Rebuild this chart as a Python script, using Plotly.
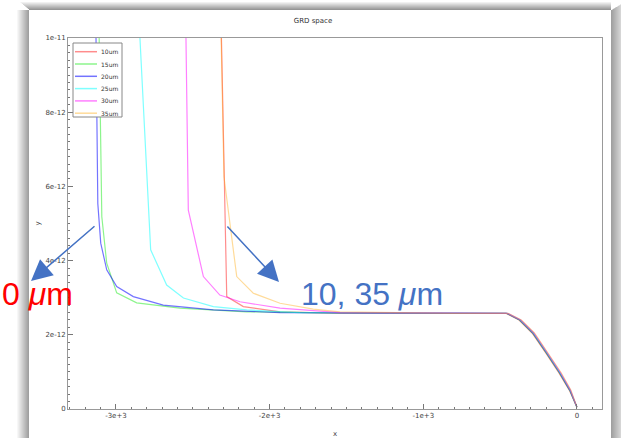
import plotly.graph_objects as go

# ---------------- data ----------------
series_names = ["10um", "15um", "20um", "25um", "30um", "35um"]

x_10 = [-2316, -2297, -2279, -2171, -1932, -1542, -1000, -700, -463, -377, -292, -203, -117, -50, -4, 0]
y_10 = [1.05e-11, 6.17e-12, 3.03e-12, 2.76e-12, 2.62e-12, 2.58e-12, 2.58e-12, 2.58e-12, 2.58e-12, 2.40e-12, 2.05e-12, 1.51e-12, 0.97e-12, 0.51e-12, 0.10e-12, 0.05e-12]

x_15 = [-3111, -3092, -3060, -2995, -2865, -2584, -2149, -1600, -1000, -460, -374, -289, -200, -114, -48, -3, 0]
y_15 = [1.05e-11, 5.18e-12, 3.93e-12, 3.13e-12, 2.86e-12, 2.72e-12, 2.62e-12, 2.59e-12, 2.58e-12, 2.58e-12, 2.40e-12, 2.05e-12, 1.51e-12, 0.97e-12, 0.51e-12, 0.09e-12, 0.05e-12]

x_20 = [-3131, -3118, -3099, -3060, -2995, -2887, -2692, -2366, -1932, -1400, -900, -457, -371, -286, -197, -111, -46, -2, 0]
y_20 = [1.05e-11, 5.54e-12, 4.47e-12, 3.75e-12, 3.30e-12, 3.03e-12, 2.80e-12, 2.67e-12, 2.60e-12, 2.59e-12, 2.58e-12, 2.58e-12, 2.40e-12, 2.05e-12, 1.51e-12, 0.97e-12, 0.51e-12, 0.08e-12, 0.05e-12]

x_25 = [-2850, -2774, -2670, -2561, -2366, -2149, -1802, -1200, -800, -454, -368, -283, -194, -108, -44, -1, 0]
y_25 = [1.05e-11, 4.29e-12, 3.34e-12, 2.99e-12, 2.76e-12, 2.67e-12, 2.60e-12, 2.59e-12, 2.58e-12, 2.58e-12, 2.40e-12, 2.05e-12, 1.51e-12, 0.97e-12, 0.51e-12, 0.07e-12, 0.05e-12]

x_30 = [-2546, -2529, -2431, -2324, -2193, -1932, -1542, -1100, -700, -451, -365, -280, -191, -105, -42, -1, 0]
y_30 = [1.05e-11, 5.36e-12, 3.57e-12, 3.07e-12, 2.89e-12, 2.72e-12, 2.60e-12, 2.59e-12, 2.58e-12, 2.58e-12, 2.40e-12, 2.05e-12, 1.51e-12, 0.97e-12, 0.51e-12, 0.07e-12, 0.05e-12]

x_35 = [-2318, -2297, -2214, -2106, -1932, -1716, -1542, -1152, -800, -448, -362, -277, -188, -102, -40, 0]
y_35 = [1.05e-11, 6.26e-12, 3.57e-12, 3.12e-12, 2.85e-12, 2.69e-12, 2.62e-12, 2.59e-12, 2.58e-12, 2.58e-12, 2.40e-12, 2.05e-12, 1.51e-12, 0.97e-12, 0.51e-12, 0.05e-12]

x_tickvals = [-3000, -2000, -1000, 0]
x_ticktext = ["-3e+3", "-2e+3", "-1e+3", "0"]
y_tickvals = [0, 2e-12, 4e-12, 6e-12, 8e-12, 1e-11]
y_ticktext = ["0", "2e-12", "4e-12", "6e-12", "8e-12", "1e-11"]

xs = [x_10, x_15, x_20, x_25, x_30, x_35]
ys = [y_10, y_15, y_20, y_25, y_30, y_35]

# ---------------- styles ----------------
colors = ["rgba(255,0,0,0.45)", "rgba(0,230,0,0.45)", "rgba(0,0,255,0.55)",
          "rgba(0,255,255,0.5)", "rgba(255,0,255,0.5)", "rgba(255,165,0,0.4)"]

W, H = 621, 438
ML, MR, MT, MB = 68, 19, 38, 29
PW, PH = W - ML - MR, H - MT - MB


def px(p):
    return (p - ML) / PW


def py(p):
    return (H - MB - p) / PH


fig = go.Figure()
for name, xv, yv, c in zip(series_names, xs, ys, colors):
    fig.add_trace(go.Scatter(x=xv, y=yv, mode="lines", name=name,
                             line=dict(color=c, width=1.2), showlegend=False))

shapes = []


def grey(t, base=160):
    v = int(base + (255 - base) * t)
    return f"rgb({v},{v},{v})"


# page shadow (screenshot frame)
n = 12
for i in range(n):
    t = i / n
    shapes.append(dict(type="rect", xref="paper", yref="paper",
                       x0=px(29 - (i + 1)), x1=px(29 - i), y0=py(438), y1=py(10),
                       line=dict(width=0), fillcolor=grey(t), layer="below"))
    shapes.append(dict(type="rect", xref="paper", yref="paper",
                       x0=px(611 + i), x1=px(611 + i + 1), y0=py(438), y1=py(10 - i * 0.6),
                       line=dict(width=0), fillcolor=grey(t * 0.75), layer="below"))
for i in range(8):
    t = i / 8
    shapes.append(dict(type="rect", xref="paper", yref="paper",
                       x0=px(29 - i * 1.2), x1=px(611), y0=py(10 - i), y1=py(10 - i - 1),
                       line=dict(width=0), fillcolor=grey(t, 150), layer="below"))

# compact legend box drawn inside the plot
LX0, LX1, LY0, LY1 = 73, 122, 43, 117
row0, row_step = 51.7, 12.3
shapes.append(dict(type="rect", xref="paper", yref="paper",
                   x0=px(LX0), x1=px(LX1), y0=py(LY1), y1=py(LY0),
                   line=dict(color="#888", width=1), fillcolor="white", layer="above"))
annotations = []
for k, (name, c) in enumerate(zip(series_names, colors)):
    ry = row0 + k * row_step
    shapes.append(dict(type="line", xref="paper", yref="paper",
                       x0=px(75), x1=px(97), y0=py(ry), y1=py(ry),
                       line=dict(color=c, width=1.5), layer="above"))
    annotations.append(dict(xref="paper", yref="paper", x=px(99), y=py(ry),
                            xanchor="left", yanchor="middle", showarrow=False,
                            text=name, font=dict(family="DejaVu Sans", size=6, color="#333")))

arrow_blue = "#4472C4"
annotations += [
    dict(xref="paper", yref="paper", x=px(31), y=py(281), ax=96 - 31, ay=225 - 281,
         showarrow=True, arrowhead=2, arrowsize=2.8, arrowwidth=1.5, arrowcolor=arrow_blue, text=""),
    dict(xref="paper", yref="paper", x=px(279), y=py(282), ax=226 - 279, ay=225 - 282,
         showarrow=True, arrowhead=2, arrowsize=2.8, arrowwidth=1.5, arrowcolor=arrow_blue, text=""),
    dict(xref="paper", yref="paper", x=px(0), y=py(294), xanchor="left", yanchor="middle",
         showarrow=False, text="0 <i>μ</i>m",
         font=dict(family="Liberation Sans, Arial", size=32, color="#FF0000")),
    dict(xref="paper", yref="paper", x=px(299), y=py(294), xanchor="left", yanchor="middle",
         showarrow=False, text="10, 35 <i>μ</i>m",
         font=dict(family="Liberation Sans, Arial", size=32, color=arrow_blue)),
]

fig.update_layout(
    width=W, height=H,
    margin=dict(l=ML, r=MR, t=MT, b=MB, autoexpand=False),
    paper_bgcolor="white", plot_bgcolor="white",
    font=dict(family="DejaVu Sans", size=7, color="#444"),
    title=dict(text="GRD space", x=px(313), xref="paper", xanchor="center",
               y=1 - 21 / H, yref="container", yanchor="middle",
               font=dict(size=7, color="#333")),
    showlegend=False,
    shapes=shapes,
    annotations=annotations,
)

fig.update_xaxes(range=[-3312, 163], tickmode="array", tickvals=x_tickvals, ticktext=x_ticktext,
                 ticks="inside", ticklen=5, tickcolor="#777", showline=True, linecolor="#999",
                 linewidth=1, mirror=True, showgrid=False, zeroline=False, automargin=False,
                 minor=dict(tick0=0, dtick=100, ticks="inside", ticklen=2, tickcolor="#777", showgrid=False),
                 title=dict(text="x", standoff=12, font=dict(size=7, color="#444")),
                 tickfont=dict(size=7, color="#444"))
fig.update_yaxes(range=[0, 1e-11], tickmode="array", tickvals=y_tickvals, ticktext=y_ticktext,
                 ticks="inside", ticklen=5, tickcolor="#777", showline=True, linecolor="#999",
                 linewidth=1, mirror=True, showgrid=False, zeroline=False, automargin=False,
                 minor=dict(tick0=0, dtick=2e-13, ticks="inside", ticklen=2, tickcolor="#777", showgrid=False),
                 title=dict(text="y", standoff=3, font=dict(size=7, color="#444")),
                 tickfont=dict(size=7, color="#444"))

fig.write_html("out.html")
